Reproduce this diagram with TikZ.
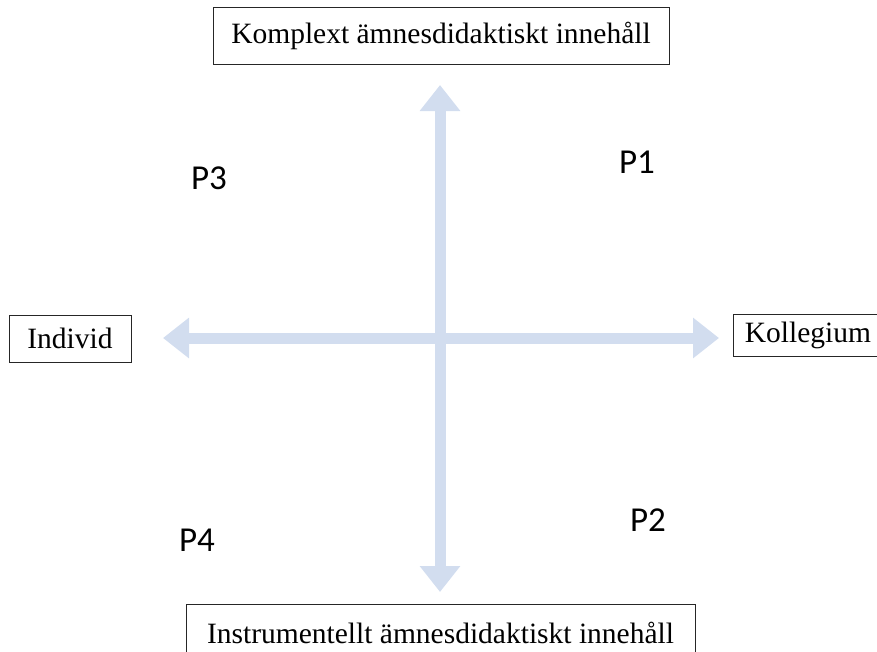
\documentclass[tikz,border=0pt]{standalone}
\usepackage{fontspec}
\setmainfont{Liberation Serif}
\newfontfamily\plabelfont{Carlito}
\usepackage{xcolor}
\usetikzlibrary{arrows.meta}
\definecolor{axisblue}{RGB}{210,221,239}

\begin{document}
\begin{tikzpicture}[x=1pt, y=-1pt,
  every node/.style={font=\fontsize{29.5}{33}\selectfont},
  endbox/.style={draw=black!85, line width=1pt, inner sep=0pt, fill=white},
  plabel/.style={font=\plabelfont\fontsize{35}{40}\selectfont},
  axis/.style={draw=axisblue, line width=11pt, -{Triangle[width=39pt,length=26pt]}}]
\useasboundingbox (0,0) rectangle (877,651);
% axes
\coordinate (centre) at (440,338);
\coordinate (top) at (440,85);
\coordinate (bottom) at (440,592);
\coordinate (left) at (163,338);
\coordinate (right) at (719,338);
\draw[axis] (centre) -- (top);
\draw[axis] (centre) -- (bottom);
\draw[axis] (centre) -- (left);
\draw[axis] (centre) -- (right);
% end boxes
\node[endbox, minimum width=456pt, minimum height=57pt] (komplext) at (441,35.5) {Komplext ämnesdidaktiskt innehåll};
\node[endbox, minimum width=509pt, minimum height=57pt] (instrument) at (440.5,632.5) {Instrumentellt ämnesdidaktiskt innehåll};
\node[endbox, minimum width=122pt, minimum height=47pt] (individ) at (70,338.5) {Individ};
\node[endbox, minimum width=150pt, minimum height=42pt] (kollegium) at (808,335) {Kollegium};
% positions
\node[plabel] (p1) at (637,162) {P1};
\node[plabel] (p2) at (648,520) {P2};
\node[plabel] (p3) at (209,178) {P3};
\node[plabel] (p4) at (197,540) {P4};
\end{tikzpicture}
\end{document}
